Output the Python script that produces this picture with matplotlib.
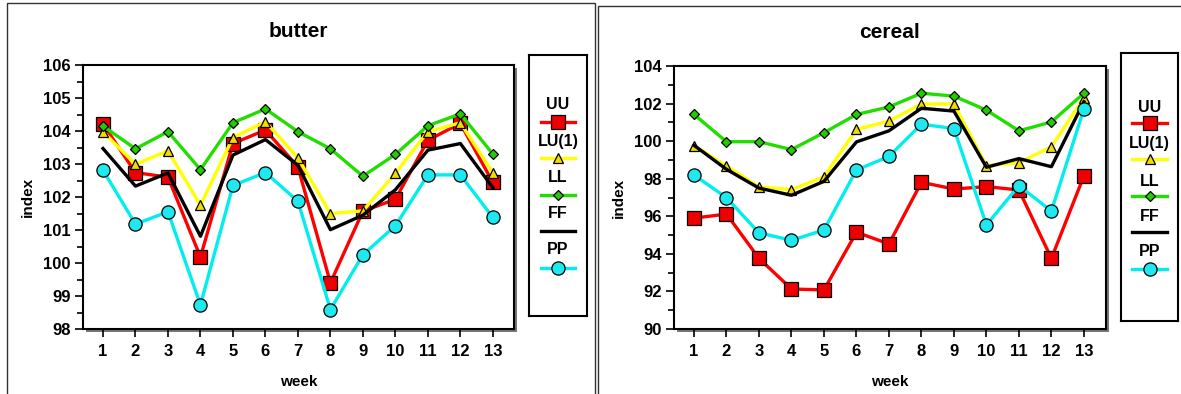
import matplotlib
matplotlib.use("Agg")
import matplotlib.pyplot as plt
from matplotlib.patches import Rectangle
from matplotlib.ticker import MultipleLocator

plt.rcParams['font.family'] = ['Liberation Sans', 'DejaVu Sans']
plt.rcParams['font.weight'] = 'bold'

weeks = list(range(1, 14))
series_names = ["UU", "LU(1)", "LL", "FF", "PP"]

butter_UU = [104.21, 102.74, 102.60, 100.18, 103.62, 104.03, 102.91, 99.40, 101.57, 101.93, 103.72, 104.23, 102.44]
butter_LU = [103.98, 102.99, 103.40, 101.75, 103.80, 104.28, 103.18, 101.50, 101.58, 102.72, 103.98, 104.25, 102.73]
butter_LL = [104.15, 103.46, 103.98, 102.83, 104.25, 104.67, 103.98, 103.46, 102.63, 103.29, 104.16, 104.52, 103.30]
butter_FF = [103.47, 102.33, 102.73, 100.81, 103.27, 103.74, 102.96, 101.01, 101.45, 102.22, 103.42, 103.62, 102.28]
butter_PP = [102.81, 101.18, 101.55, 98.73, 102.35, 102.74, 101.87, 98.59, 100.25, 101.13, 102.67, 102.67, 101.38]

cereal_UU = [95.90, 96.12, 93.76, 92.13, 92.08, 95.15, 94.53, 97.81, 97.45, 97.58, 97.40, 93.76, 98.15]
cereal_LU = [99.76, 98.68, 97.56, 97.42, 98.10, 100.62, 101.07, 101.98, 101.98, 98.70, 98.85, 99.70, 102.31]
cereal_LL = [101.42, 99.97, 99.97, 99.55, 100.45, 101.42, 101.82, 102.55, 102.40, 101.65, 100.55, 101.02, 102.55]
cereal_FF = [99.78, 98.50, 97.50, 97.12, 97.86, 99.96, 100.55, 101.75, 101.60, 98.61, 99.07, 98.64, 102.10]
cereal_PP = [98.20, 96.99, 95.12, 94.72, 95.27, 98.46, 99.19, 100.90, 100.67, 95.54, 97.63, 96.28, 101.72]

W, H = 1181, 394
fig = plt.figure(figsize=(W / 100, H / 100), dpi=100)

def frac(x0, y0, x1, y1):
    return [x0 / W, 1 - y1 / H, (x1 - x0) / W, (y1 - y0) / H]

# panel frames
fig.patches.append(Rectangle((7 / W, -0.05), (595 - 7) / W, 1.05 - 3 / H, transform=fig.transFigure,
                             fill=False, edgecolor='#333333', lw=1.0, zorder=0))
fig.patches.append(Rectangle((598 / W, -0.05), (1190 - 598) / W, 1.05 - 6 / H, transform=fig.transFigure,
                             fill=False, edgecolor='#333333', lw=1.0, zorder=0))

styles = {
    "UU": dict(color='#ff0000', marker='s', mfc='#ee0000', ms=9.5),
    "LU(1)": dict(color='#ffff00', marker='^', mfc='#f2dc00', ms=7.5),
    "LL": dict(color='#22dd00', marker='D', mfc='#22cc00', ms=5.5),
    "FF": dict(color='#000000', marker=None, mfc='none', ms=0),
    "PP": dict(color='#00eeee', marker='o', mfc='#1ee8f0', ms=9.5),
}

panels = [
    dict(title="butter", data=[butter_UU, butter_LU, butter_LL, butter_FF, butter_PP],
         ax=(83, 65, 514, 329), ylim=(98, 106), major=1, minor=0.5, xlim=(0.385, 13.65),
         leg=(529, 55, 587, 316),
         leg_text=[105, 142, 178, 214, 250], leg_line=[122, 158, 195, 231, 268]),
    dict(title="cereal", data=[cereal_UU, cereal_LU, cereal_LL, cereal_FF, cereal_PP],
         ax=(674, 66, 1106, 329), ylim=(90, 104), major=2, minor=1, xlim=(0.385, 13.68),
         leg=(1121, 53, 1178, 321),
         leg_text=[107, 143, 181, 216, 252], leg_line=[123, 159, 196, 232, 269]),
]

for p in panels:
    x0, y0, x1, y1 = p["ax"]
    # drop shadow
    fig.patches.append(Rectangle(((x0 + 3) / W, 1 - (y1 + 3) / H), (x1 - x0) / W, (y1 - y0) / H,
                                 transform=fig.transFigure, facecolor='#777777', edgecolor='none', zorder=1))
    ax = fig.add_axes(frac(x0, y0, x1, y1), zorder=2)
    order = [4, 3, 1, 0, 2]
    for i in order:
        name = series_names[i]
        st = styles[name]
        ax.plot(weeks, p["data"][i], color=st["color"], lw=2.4,
                marker=st["marker"], markerfacecolor=st["mfc"], markeredgecolor='black',
                markeredgewidth=0.9, markersize=st["ms"], zorder=3 + i * 0.1)
    ax.set_xlim(*p["xlim"])
    ax.set_ylim(*p["ylim"])
    ax.set_xticks(weeks)
    ax.yaxis.set_major_locator(MultipleLocator(p["major"]))
    ax.yaxis.set_minor_locator(MultipleLocator(p["minor"]))
    ax.tick_params(axis='both', which='major', length=6, width=1.2, direction='out',
                   labelsize=12, pad=3)
    ax.tick_params(axis='x', which='major', pad=5)
    ax.tick_params(axis='y', which='minor', length=4, width=1.2, direction='out')
    for lab in ax.get_xticklabels() + ax.get_yticklabels():
        lab.set_fontweight('bold')
    for s in ax.spines.values():
        s.set_linewidth(1.5)
    ax.set_xlabel("week", fontsize=11, fontweight='bold', labelpad=11)
    ax.set_ylabel("index", fontsize=11, fontweight='bold', labelpad=6)
    ax.set_title(p["title"], fontsize=15, fontweight='bold', pad=20)

    # legend box
    lx0, ly0, lx1, ly1 = p["leg"]
    lax = fig.add_axes(frac(lx0, ly0, lx1, ly1), zorder=2)
    lax.set_xlim(0, 1)
    lax.set_ylim(0, 1)
    lax.set_xticks([])
    lax.set_yticks([])
    for s in lax.spines.values():
        s.set_linewidth(1.5)
    for i, name in enumerate(series_names):
        st = styles[name]
        ty = 1 - (p["leg_text"][i] - ly0) / (ly1 - ly0)
        my = 1 - (p["leg_line"][i] - ly0) / (ly1 - ly0)
        lax.text(0.5, ty, name, ha='center', va='center', fontsize=11.5, fontweight='bold')
        lax.plot([0.2, 0.5, 0.8], [my, my, my], color=st["color"], lw=2.4,
                 marker=st["marker"], markevery=[1], markerfacecolor=st["mfc"],
                 markeredgecolor='black', markeredgewidth=0.9, markersize=st["ms"])

fig.savefig("out.png", dpi=100)
